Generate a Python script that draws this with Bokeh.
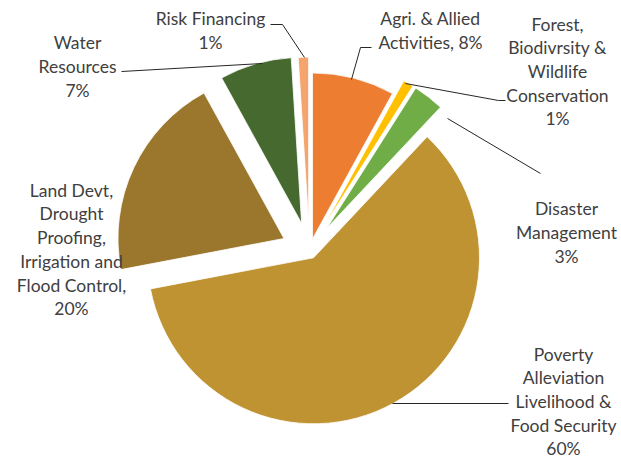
import numpy as np
from bokeh.plotting import figure
from bokeh.models import Range1d, ColumnDataSource
from bokeh.core.properties import value
from bokeh.embed import file_html
from bokeh.resources import INLINE

# ---- data ----
categories = [
    "Agri. & Allied Activities",
    "Forest, Biodivrsity & Wildlife Conservation",
    "Disaster Management",
    "Poverty Alleviation Livelihood & Food Security",
    "Land Devt, Drought Proofing, Irrigation and Flood Control",
    "Water Resources",
    "Risk Financing",
]
shares = [8, 1, 3, 60, 20, 7, 1]
labels = [
    "Agri. & Allied\nActivities, 8%",
    "Forest,\nBiodivrsity &\nWildlife\nConservation\n1%",
    "Disaster\nManagement\n3%",
    "Poverty\nAlleviation\nLivelihood &\nFood Security\n60%",
    "Land Devt,\nDrought\nProofing,\nIrrigation and\nFlood Control,\n20%",
    "Water\nResources\n7%",
    "Risk Financing\n1%",
]

# ---- styles / layout ----
colors = ["#ED7D31", "#FFC000", "#70AD47", "#BF9232", "#9A772D", "#46692F", "#F4A46C"]
explode = [0.072, 0.17, 0.17, 0.05, 0.17, 0.17, 0.165]   # fraction of radius
CX, CY_SCREEN, R = 309, 250, 166
W, H = 621, 460
label_pos = [(430, 30), (557, 71), (566, 232), (563, 401), (71, 249), (77, 66), (210, 30)]
leaders = [
    [(371, 47), (360, 47), (351, 79)],
    [(505, 100), (498, 100), (405, 83)],
    [(540, 173), (447, 118)],
    [(508, 403), (392, 403)],
    None,
    [(121, 71), (262, 63)],
    [(270, 24), (282, 24), (304, 57)],
]

vals = np.array(shares, dtype=float)
frac = vals / vals.sum()
cum_end = np.cumsum(frac) * 2 * np.pi        # clockwise-from-top angles
cum_start = cum_end - frac * 2 * np.pi
mid = (cum_start + cum_end) / 2

cy = H - CY_SCREEN
xs = CX + np.array(explode) * R * np.sin(mid)
ys = cy + np.array(explode) * R * np.cos(mid)
start_angle = np.pi / 2 - cum_end
end_angle = np.pi / 2 - cum_start

src = ColumnDataSource(dict(x=xs, y=ys, start=start_angle, end=end_angle,
                            color=colors, cat=categories))

p = figure(width=W, height=H, x_range=Range1d(0, W), y_range=Range1d(0, H),
           output_backend="svg", toolbar_location=None, min_border=0)
p.axis.visible = False
p.grid.visible = False
p.outline_line_color = None
p.background_fill_color = "white"

p.wedge(x="x", y="y", radius=R, start_angle="start", end_angle="end",
        direction="anticlock", fill_color="color", line_color="white",
        line_width=0.8, source=src)

for pts in leaders:
    if pts is None:
        continue
    p.line([q[0] for q in pts], [H - q[1] for q in pts], line_color="#262626", line_width=1)

lsrc = ColumnDataSource(dict(x=[q[0] for q in label_pos], y=[H - q[1] for q in label_pos], t=labels))
p.text(x="x", y="y", text="t", source=lsrc, text_font=value("Lato"), text_font_size="17.5px",
       text_align="center", text_baseline="middle", text_line_height=1.13, text_color="#404040")

open("out.html", "w").write(file_html(p, INLINE))
